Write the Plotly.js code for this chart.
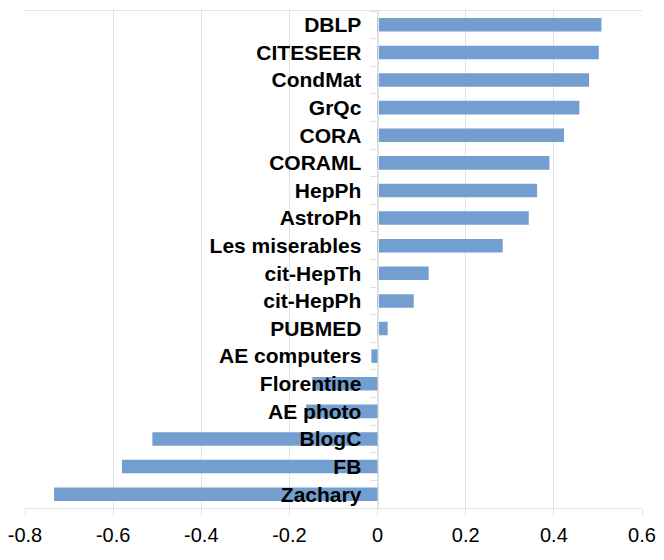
<!DOCTYPE html>
<html>
<head>
<meta charset="utf-8">
<script src="https://cdn.plot.ly/plotly-3.0.1.min.js"></script>
<style>html,body{margin:0;padding:0;background:#fff;}#chart{width:664px;height:560px;}</style>
</head>
<body>
<div id="chart"></div>
<script>
const categories = ["DBLP","CITESEER","CondMat","GrQc","CORA","CORAML","HepPh","AstroPh","Les miserables","cit-HepTh","cit-HepPh","PUBMED","AE computers","Florentine","AE photo","BlogC","FB","Zachary"];
const values = [0.508,0.502,0.480,0.458,0.423,0.390,0.362,0.343,0.284,0.116,0.082,0.023,-0.014,-0.148,-0.162,-0.511,-0.580,-0.734];
const xTicks = [-0.8,-0.6,-0.4,-0.2,0,0.2,0.4,0.6];
const xTickText = ["-0.8","-0.6","-0.4","-0.2","0","0.2","0.4","0.6"];
const xRange = [-0.8, 0.6];

const gridColor = "#e3e3e3";
const trace = {
  type: "bar",
  orientation: "h",
  x: values,
  y: categories,
  marker: {color: "#729fcf", line: {width: 0}},
  hoverinfo: "x+y"
};
const layout = {
  width: 664, height: 560,
  margin: {l: 25, r: 22, t: 11, b: 52},
  paper_bgcolor: "#fff", plot_bgcolor: "#fff",
  showlegend: false,
  bargap: 0.51,
  font: {family: "Liberation Sans, Arial, sans-serif", color: "#000"},
  xaxis: {
    range: xRange,
    tickvals: xTicks, ticktext: xTickText,
    showgrid: true, gridcolor: gridColor, gridwidth: 1,
    zeroline: false,
    showline: true, linecolor: gridColor, linewidth: 1, mirror: true,
    ticks: "outside", ticklen: 7, tickcolor: gridColor,
    tickfont: {size: 20, color: "#000"},
    ticklabelstandoff: 2
  },
  yaxis: {
    type: "category",
    categoryorder: "array", categoryarray: categories,
    autorange: "reversed",
    anchor: "free",
    position: (0 - xRange[0]) / (xRange[1] - xRange[0]),
    showgrid: false, zeroline: false,
    showline: true, linecolor: gridColor, linewidth: 1,
    ticks: "outside", tickson: "boundaries", ticklen: 8, tickcolor: gridColor,
    tickfont: {size: 21, color: "#000", weight: "bold"},
    ticklabelstandoff: 12
  }
};
Plotly.newPlot("chart", [trace], layout, {displayModeBar: false, staticPlot: true});
</script>
</body>
</html>
